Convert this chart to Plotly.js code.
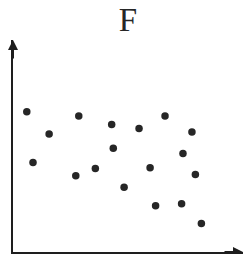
<!DOCTYPE html>
<html>
<head>
<meta charset="utf-8">
<script src="https://cdn.plot.ly/plotly-3.0.1.min.js"></script>
<style>html,body{margin:0;padding:0;background:#fff;}#chart{width:246px;height:254px;}</style>
</head>
<body>
<div id="chart"></div>
<script>
const chartTitle = "F";
const xValues = [0.60, 2.86, 4.29, 5.48, 6.61, 1.57, 7.78, 4.36, 7.39, 0.87, 2.73, 3.58, 5.96, 7.93, 4.83, 6.20, 7.33, 8.19];
const yValues = [6.62, 6.42, 6.01, 5.83, 6.41, 5.57, 5.66, 4.89, 4.65, 4.22, 3.60, 3.94, 3.97, 3.66, 3.06, 2.18, 2.28, 1.35];

const trace = {
  x: xValues, y: yValues, type: 'scatter', mode: 'markers',
  marker: {size: 7.5, color: '#262626'}, hoverinfo: 'none'
};
const axisCommon = {
  range: [0, 10], showgrid: false, zeroline: false, showticklabels: false,
  ticks: '', showline: true, linewidth: 2, linecolor: '#1e1e1e', fixedrange: true
};
const layout = {
  width: 246, height: 254,
  margin: {l: 13, r: 3, t: 40, b: 2},
  paper_bgcolor: '#fff', plot_bgcolor: '#fff',
  showlegend: false,
  title: {text: chartTitle, font: {family: 'Liberation Serif', size: 33, color: '#262626'},
          xref: 'paper', x: 0.5, xanchor: 'center', yref: 'container', y: 0.925, yanchor: 'middle'},
  xaxis: Object.assign({}, axisCommon),
  yaxis: Object.assign({}, axisCommon),
  annotations: [
    {xref: 'paper', yref: 'paper', x: 0, y: 1, ax: 0, ay: 20, text: '', showarrow: true,
     arrowhead: 2, arrowsize: 1, arrowwidth: 2, arrowcolor: '#1e1e1e', standoff: 0},
    {xref: 'paper', yref: 'paper', x: 1, y: 0, ax: -20, ay: 0, text: '', showarrow: true,
     arrowhead: 2, arrowsize: 1, arrowwidth: 2, arrowcolor: '#1e1e1e', standoff: 0}
  ]
};
Plotly.newPlot('chart', [trace], layout, {staticPlot: true, displayModeBar: false});
</script>
</body>
</html>
